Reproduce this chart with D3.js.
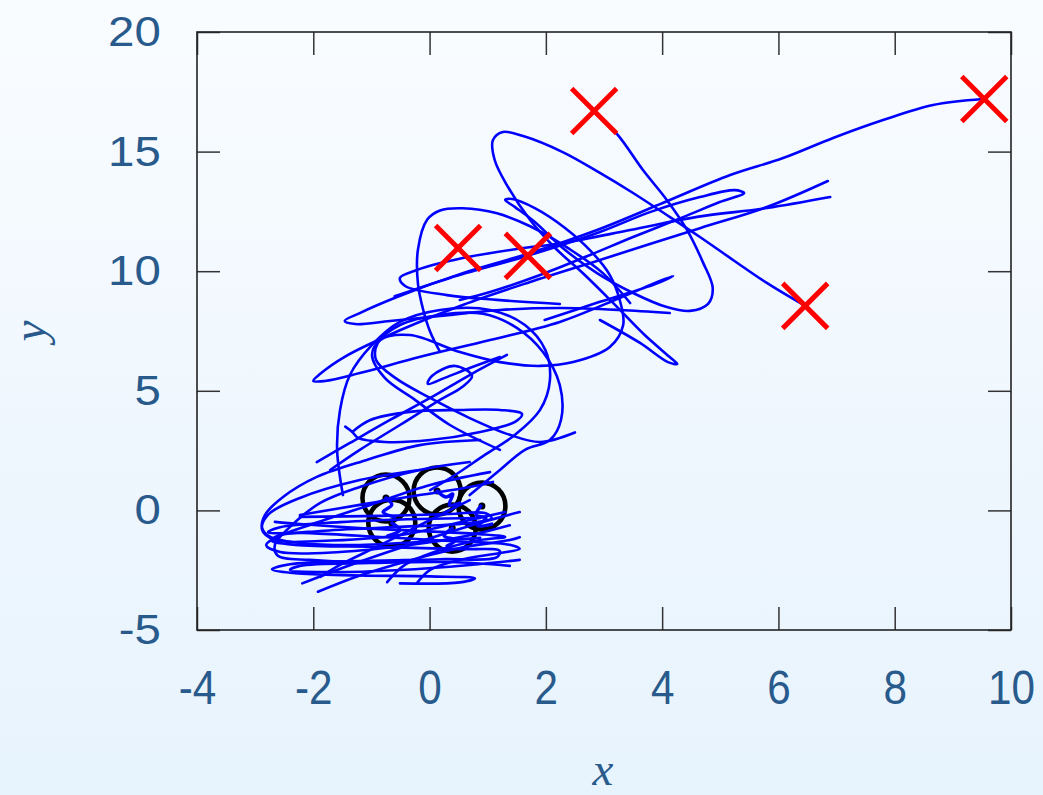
<!DOCTYPE html>
<html>
<head>
<meta charset="utf-8">
<script src="https://cdn.jsdelivr.net/npm/d3@7"></script>
<style>
  html, body { margin: 0; padding: 0; }
  body { width: 1043px; height: 795px; overflow: hidden; }
</style>
</head>
<body>
<svg id="chart" width="1043" height="795"></svg>
<script>
// Axis ticks
const xTicks = [-4, -2, 0, 2, 4, 6, 8, 10];
const yTicks = [-5, 0, 5, 10, 15, 20];

// Initial positions (circles) and final positions (crosses)
const startPoints = [[-0.75, 0.52], [0.13, 0.81], [0.90, 0.18], [-0.65, -0.53], [0.39, -0.74]];
const endPoints = [[0.49, 10.97], [1.69, 10.64], [2.83, 16.70], [6.46, 8.55], [9.54, 17.20]];

// Trajectory segments, [x, y]
const trackA = [[9.52,17.20],[8.66,16.95],[7.80,16.32],[6.94,15.57],[6.08,14.73],[5.17,14.02],[4.01,12.85],[2.88,11.72],[1.73,10.76],[0.57,9.92],[-0.56,8.92],[-1.20,8.25],[-1.46,7.92],[-1.28,7.79],[-0.68,7.92],[0.18,8.13],[1.21,8.38],[2.24,8.46],[3.27,8.38],[4.13,8.25]];
const trackB = [[6.46,8.55],[5.80,9.51],[5.22,10.47],[4.65,11.43],[4.08,12.35],[3.50,13.27],[2.93,14.11],[2.29,14.98],[1.61,15.65],[1.26,15.82],[1.09,15.48],[1.12,14.65],[1.33,13.60],[1.73,12.14],[2.16,10.97],[2.67,9.84],[3.19,8.59],[3.70,7.33],[4.13,6.41],[4.26,6.12],[4.10,6.20],[3.62,7.00],[2.93,7.96]];
const trackC = [[2.83,16.70],[3.24,15.69],[3.67,14.23],[4.08,12.98],[4.43,11.72],[4.70,10.38],[4.87,9.30],[4.79,8.63],[4.48,8.34],[4.08,8.50],[3.50,9.09],[2.88,9.92],[2.29,10.97],[1.81,12.06],[1.47,12.68],[1.30,12.98],[1.42,13.02],[1.81,12.64],[2.33,11.81],[2.79,10.80],[3.10,9.84],[3.27,8.80],[3.33,7.75],[3.10,6.83],[2.47,6.20],[1.90,6.04],[1.21,6.20],[0.52,6.62],[-0.34,7.33],[-0.85,7.12],[-0.99,6.50],[-0.77,5.54],[-0.25,4.62],[0.35,3.57],[1.21,2.53]];
const trackD = [[6.89,13.10],[5.80,12.64],[4.60,12.27],[3.45,11.72],[2.29,11.18],[1.50,10.93],[0.57,10.55],[-0.22,10.05],[-0.51,9.72],[-0.42,9.38],[0.30,9.00],[1.16,8.80],[2.24,8.63]];
const trackE = [[6.85,13.77],[5.80,12.68],[4.65,11.80],[2.93,10.47],[1.73,9.55],[0.57,8.59],[-0.51,7.53],[-1.46,6.42],[-1.88,5.71],[-2.00,5.41],[-1.80,5.41],[-1.20,5.74],[-0.16,6.42],[1.04,7.12],[2.24,7.88],[3.27,8.88],[3.96,9.59],[4.19,9.80],[3.88,9.46],[2.93,8.72],[1.98,7.96]];
const trackF = [[-0.60,8.95],[0.35,9.72],[1.73,10.68],[2.93,11.64],[3.79,12.47],[4.65,13.10],[5.25,13.39],[5.41,13.27],[4.99,12.89],[4.36,12.26],[3.50,11.43],[2.76,10.68],[1.90,9.84],[1.04,9.13],[0.52,8.80]];
const trackG = [[-1.49,0.64],[-1.59,2.53],[-1.54,4.20],[-1.37,5.66],[-0.99,6.92],[-0.51,7.88],[0.18,8.38],[1.04,8.38],[1.64,7.75],[1.99,6.71],[2.07,5.45],[1.90,4.20],[1.47,3.16],[0.95,2.32],[0.44,1.48],[0.01,0.85]];
const trackH = [[0.69,0.64],[1.21,1.69],[1.64,2.53],[2.07,2.94],[2.26,3.78],[2.24,5.24],[1.95,6.62],[1.50,7.63],[0.92,8.22],[0.18,8.17],[-0.51,7.75],[-0.89,7.00],[-0.92,6.29],[-0.59,5.54],[0.01,4.70],[0.69,3.86],[1.38,3.16],[1.90,2.86],[2.50,3.26]];
const trackI = [[-1.33,3.28],[-1.02,3.78],[-0.34,4.12],[0.52,4.20],[1.21,4.20],[1.59,4.03],[1.47,3.70],[0.87,3.28],[0.01,2.94],[-0.77,2.86],[-1.23,3.03],[-1.33,3.28],[-1.45,3.50]];
const trackJ = [[-1.94,2.02],[-1.37,2.82],[-0.68,3.78],[0.01,4.70],[0.69,5.66],[1.33,6.50]];
const trackK = [[0.87,2.94],[-0.17,2.73],[-1.08,2.11],[-1.94,1.40],[-2.52,0.56],[-2.83,-0.19],[-2.88,-0.74],[-2.74,-1.11],[-2.23,-1.36],[-1.37,-1.45],[-0.17,-1.32],[0.87,-1.15]];
const trackL = [[0.69,2.02],[-0.17,1.69],[-1.20,0.98],[-1.88,0.31],[-2.40,-0.69],[-2.66,-1.44],[-2.61,-1.90],[-2.06,-2.07],[-1.20,-2.15],[-0.17,-2.07]];
const trackM = [[-2.23,-0.27],[-0.85,-0.23],[0.35,-0.15],[0.95,-0.11],[1.07,-0.32],[0.69,-0.53],[-0.51,-0.69],[-1.88,-0.86],[-2.62,-1.07],[-2.71,-1.27],[-2.31,-1.44],[-0.85,-1.53],[0.52,-1.62],[1.21,-1.70],[1.16,-1.95],[0.18,-2.04],[-1.20,-2.12],[-2.40,-2.25],[-2.71,-2.46],[-2.31,-2.63],[-1.20,-2.72],[0.01,-2.76],[0.78,-2.84],[0.52,-3.01],[-0.51,-3.05]];
const trackN = [[-2.19,-3.05],[-1.37,-2.29],[-0.51,-1.57],[0.35,-0.90],[1.04,-0.40],[1.55,-0.07]];
const trackO = [[-1.92,-3.40],[-1.20,-2.72],[-0.34,-2.09],[0.52,-1.57],[1.38,-1.24],[1.55,-1.12]];
const trackP = [[-0.22,-3.05],[0.01,-2.49],[0.52,-2.07],[1.21,-1.78],[1.55,-1.61],[1.38,-1.44],[0.35,-1.28],[-0.85,-1.11],[-2.05,-0.95],[-2.78,-0.91],[-2.57,-0.70],[-1.54,-0.49],[-0.16,-0.36],[0.87,-0.32]];
const trackQ = [[-0.73,-3.00],[-0.42,-2.27],[0.18,-1.66],[0.87,-1.24],[1.30,-1.11],[0.87,-0.99],[-0.17,-0.86],[-1.20,-0.74],[-2.23,-0.57],[-2.66,-0.48]];
const trackR = [[1.21,6.41],[0.69,5.95],[0.26,5.54],[-0.03,5.29],[0.04,5.62],[0.44,6.04],[0.73,5.62],[0.56,5.16],[0.18,4.62],[-0.51,3.57],[-1.20,2.53],[-1.71,1.69]];
const trackS = [[-2.23,-0.19],[-1.20,0.23],[-0.17,0.64],[0.69,0.98],[1.09,1.19]];
const trackT = [[3.45,8.67],[2.98,9.92],[2.41,10.92],[1.73,11.88],[1.16,12.42],[0.57,12.63],[0.18,12.54],[-0.04,12.16],[-0.20,10.90],[-0.20,9.48],[-0.11,8.39],[0.01,7.47],[0.18,6.63]];
const trackU = [[1.04,1.60],[0.01,1.06],[-1.02,0.23],[-2.06,-0.61],[-2.66,-1.15],[-2.81,-1.45],[-2.57,-1.74],[-1.54,-1.74],[-0.34,-1.45],[0.69,-1.04],[1.38,-0.62]];
const trackV = [[1.55,-2.07],[0.69,-2.28],[-0.51,-2.49],[-1.71,-2.58],[-2.40,-2.49],[-2.23,-2.32],[-1.02,-2.20],[0.35,-2.16],[1.38,-2.32]];
const trackW = [[0.69,0.43],[0.01,-0.40],[-0.85,-1.45],[-1.54,-2.28],[-1.88,-2.78]];
const trackX = [[-0.17,1.69],[-1.20,1.27],[-2.23,0.52],[-2.78,-0.19],[-2.88,-0.82],[-2.66,-1.24],[-1.88,-1.28],[-0.51,-1.03],[0.69,-0.40],[1.30,-0.07]];
// Short wiggles next to the starting positions
const wiggleA = [[-0.75,0.52],[-0.65,0.23],[-0.80,-0.07],[-0.60,-0.28]];
const wiggleB = [[0.13,0.81],[0.28,0.56],[0.40,0.69],[0.34,0.23],[0.52,0.31]];
const wiggleC = [[0.88,0.18],[0.80,-0.19],[0.97,-0.32],[0.83,-0.65],[1.07,-0.57]];
const wiggleD = [[-0.65,-0.53],[-0.51,-0.82],[-0.72,-1.07]];
const wiggleE = [[0.39,-0.74],[0.25,-1.07],[0.45,-1.24],[0.30,-1.49]];

const tracks = [trackA, trackB, trackC, trackD, trackE, trackF, trackG, trackH, trackI, trackJ,
  trackK, trackL, trackM, trackN, trackO, trackP, trackQ, trackR, trackS, trackT,
  trackU, trackV, trackW, trackX];
const wiggles = [wiggleA, wiggleB, wiggleC, wiggleD, wiggleE];

const W = 1043, H = 795;
const plot = { left: 197, right: 1011, top: 32, bottom: 630 };
const labelColor = '#285a8c';

const svg = d3.select('#chart');
const defs = svg.append('defs');

// Soft vertical background gradient
const grad = defs.append('linearGradient').attr('id', 'bg').attr('x1', 0).attr('y1', 0).attr('x2', 0).attr('y2', 1);
grad.append('stop').attr('offset', '0%').attr('stop-color', '#f9fcff');
grad.append('stop').attr('offset', '100%').attr('stop-color', '#e7f3fd');
svg.append('rect').attr('width', W).attr('height', H).attr('fill', 'url(#bg)');

defs.append('clipPath').attr('id', 'plotClip').append('rect')
  .attr('x', plot.left).attr('y', plot.top)
  .attr('width', plot.right - plot.left).attr('height', plot.bottom - plot.top);

const x = d3.scaleLinear().domain([-4, 10]).range([plot.left, plot.right]);
const y = d3.scaleLinear().domain([-5, 20]).range([plot.bottom, plot.top]);

const tickLen = 23;

// Bottom axis with labels
const gBottom = svg.append('g').attr('transform', `translate(0,${plot.bottom})`)
  .call(d3.axisBottom(x).tickValues(xTicks).tickSize(-tickLen).tickPadding(40).tickFormat(d => String(d)));
gBottom.selectAll('text')
  .attr('fill', labelColor).style('font-family', '"Liberation Sans", Arial, sans-serif')
  .style('font-size', '48px').attr('transform', 'scale(0.88,1)');

// Left axis with labels
const gLeft = svg.append('g').attr('transform', `translate(${plot.left},0)`)
  .call(d3.axisLeft(y).tickValues(yTicks).tickSize(-tickLen).tickPadding(32).tickFormat(d => String(d)));
gLeft.selectAll('text')
  .attr('fill', labelColor).style('font-family', '"Liberation Sans", Arial, sans-serif')
  .style('font-size', '42px').attr('transform', 'scale(1.13,1)');

// Mirrored ticks on top and right
const gTop = svg.append('g').attr('transform', `translate(0,${plot.top})`)
  .call(d3.axisTop(x).tickValues(xTicks).tickSize(-tickLen).tickFormat(''));
const gRight = svg.append('g').attr('transform', `translate(${plot.right},0)`)
  .call(d3.axisRight(y).tickValues(yTicks).tickSize(-tickLen).tickFormat(''));

[gBottom, gLeft, gTop, gRight].forEach(g => {
  g.select('.domain').remove();
  g.selectAll('line').attr('stroke', '#333').attr('stroke-width', 1.5);
});

// Frame
svg.append('rect')
  .attr('x', plot.left).attr('y', plot.top)
  .attr('width', plot.right - plot.left).attr('height', plot.bottom - plot.top)
  .attr('fill', 'none').attr('stroke', '#222').attr('stroke-width', 1.6);

const layer = svg.append('g').attr('clip-path', 'url(#plotClip)');

// Initial positions
layer.selectAll('circle.start').data(startPoints).join('circle')
  .attr('class', 'start')
  .attr('cx', d => x(d[0])).attr('cy', d => y(d[1])).attr('r', 23.5)
  .attr('fill', 'none').attr('stroke', '#000').attr('stroke-width', 4.6);
layer.selectAll('circle.dot').data(startPoints).join('circle')
  .attr('class', 'dot')
  .attr('cx', d => x(d[0])).attr('cy', d => y(d[1])).attr('r', 3.5)
  .attr('fill', '#000');

// Trajectories
const line = d3.line().x(d => x(d[0])).y(d => y(d[1])).curve(d3.curveCatmullRom.alpha(0.5));
layer.selectAll('path.track').data(tracks).join('path')
  .attr('class', 'track')
  .attr('d', line).attr('fill', 'none').attr('stroke', '#0000ff')
  .attr('stroke-width', 2.6).attr('stroke-linejoin', 'round').attr('stroke-linecap', 'round');
layer.selectAll('path.wiggle').data(wiggles).join('path')
  .attr('class', 'wiggle')
  .attr('d', line).attr('fill', 'none').attr('stroke', '#0000ff')
  .attr('stroke-width', 3.4).attr('stroke-linejoin', 'round').attr('stroke-linecap', 'round');

// Final positions
const arm = 22.5;
const cross = svg.append('g').selectAll('g').data(endPoints).join('g')
  .attr('transform', d => `translate(${x(d[0])},${y(d[1])})`);
cross.append('line').attr('x1', -arm).attr('y1', -arm).attr('x2', arm).attr('y2', arm);
cross.append('line').attr('x1', -arm).attr('y1', arm).attr('x2', arm).attr('y2', -arm);
cross.selectAll('line').attr('stroke', '#ff0000').attr('stroke-width', 5);

// Axis titles
svg.append('text').text('x')
  .attr('x', 603).attr('y', 785).attr('text-anchor', 'middle')
  .attr('fill', labelColor).style('font-family', '"Liberation Serif", "DejaVu Serif", serif')
  .style('font-style', 'italic').style('font-size', '47px');
svg.append('text').text('y')
  .attr('transform', 'translate(45,331) rotate(-90)').attr('text-anchor', 'middle')
  .attr('fill', labelColor).style('font-family', '"Liberation Serif", "DejaVu Serif", serif')
  .style('font-style', 'italic').style('font-size', '47px');
</script>
</body>
</html>
